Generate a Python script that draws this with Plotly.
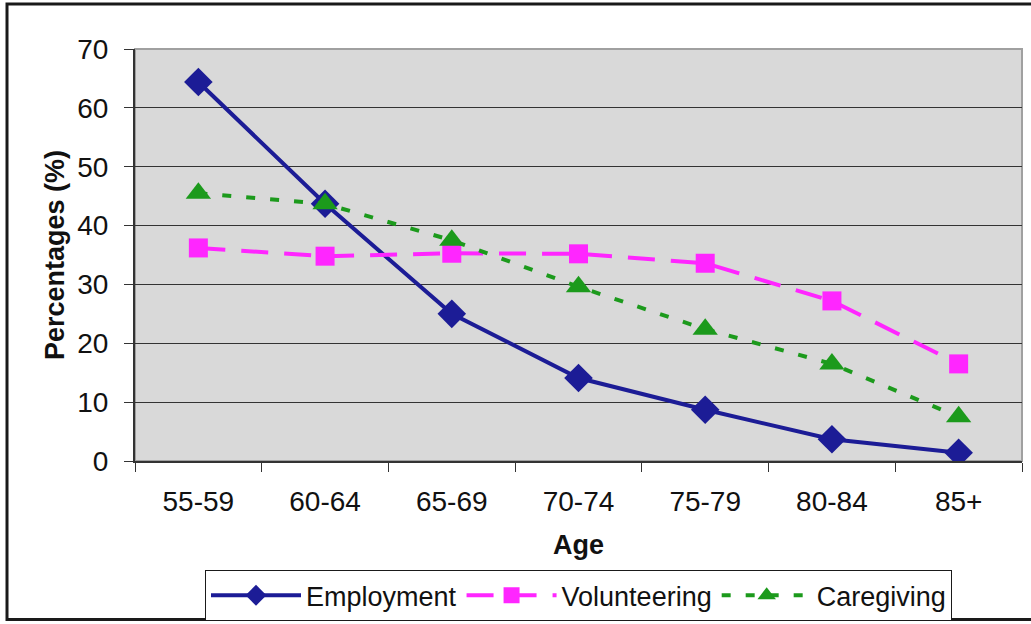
import plotly.graph_objects as go

ages = ["55-59", "60-64", "65-69", "70-74", "75-79", "80-84", "85+"]
employment = [64.4, 43.7, 25.0, 14.1, 8.7, 3.7, 1.4]
volunteering = [36.2, 34.8, 35.3, 35.2, 33.6, 27.2, 16.5]
caregiving = [45.5, 43.7, 37.5, 29.6, 22.4, 16.5, 7.5]
y_ticks = [0, 10, 20, 30, 40, 50, 60, 70]

FONT = "Liberation Sans, Arial, sans-serif"

fig = go.Figure()
fig.add_trace(go.Scatter(
    x=ages, y=employment, name="Employment", mode="lines+markers",
    line=dict(color="#1C1C96", width=4),
    marker=dict(symbol="diamond", size=22, color="#1C1C96"),
))
fig.add_trace(go.Scatter(
    x=ages, y=volunteering, name="Volunteering", mode="lines+markers",
    line=dict(color="#FF26FF", width=4, dash="27px,16px"),
    marker=dict(symbol="square", size=19, color="#FF26FF"),
))
fig.add_trace(go.Scatter(
    x=ages, y=caregiving, name="Caregiving", mode="lines+markers",
    line=dict(color="#1C9A1C", width=4, dash="9px,15px"),
    marker=dict(symbol="triangle-up", size=22, color="#1C9A1C"),
))

# outer chart frame
fig.add_shape(type="rect", xref="paper", yref="paper",
              x0=-0.1443, x1=1.02, y0=-0.385, y1=1.109,
              line=dict(color="#1a1a1a", width=3), layer="below")
# plot area border
fig.add_shape(type="rect", xref="paper", yref="paper",
              x0=0, x1=1, y0=0, y1=1,
              line=dict(color="#A0A0A0", width=2), layer="below")

fig.update_layout(
    width=1031, height=624,
    margin=dict(l=135, r=9, t=49, b=163, autoexpand=False),
    paper_bgcolor="white", plot_bgcolor="#D9D9D9",
    font=dict(family=FONT, size=28, color="#111111"),
    showlegend=True,
    legend=dict(
        orientation="h", x=0.5, xanchor="center", y=-0.265, yanchor="top",
        bordercolor="#1a1a1a", borderwidth=1, bgcolor="white",
        font=dict(size=27), itemwidth=90, tracegroupgap=0,
    ),
    xaxis=dict(
        type="category", categoryorder="array", categoryarray=ages,
        tickson="boundaries", ticks="outside", ticklen=9, tickcolor="#333",
        showline=True, linecolor="#333", linewidth=2, showgrid=False,
        ticklabelstandoff=14, automargin=False,
        title=dict(text="<b>Age</b>", font=dict(size=27), standoff=20),
        range=[-0.5, 6.5],
    ),
    yaxis=dict(
        range=[0, 70], tickvals=y_ticks, ticks="outside", ticklen=9, tickcolor="#333",
        showline=True, linecolor="#333", linewidth=2,
        gridcolor="#333", gridwidth=1, zeroline=False,
        ticklabelstandoff=10, automargin=False,
        title=dict(text="<b>Percentages (%)</b>", font=dict(size=27), standoff=5),
    ),
)

fig.write_html("out.html", config={"displayModeBar": False},
               post_script="document.body.style.margin='0';")
